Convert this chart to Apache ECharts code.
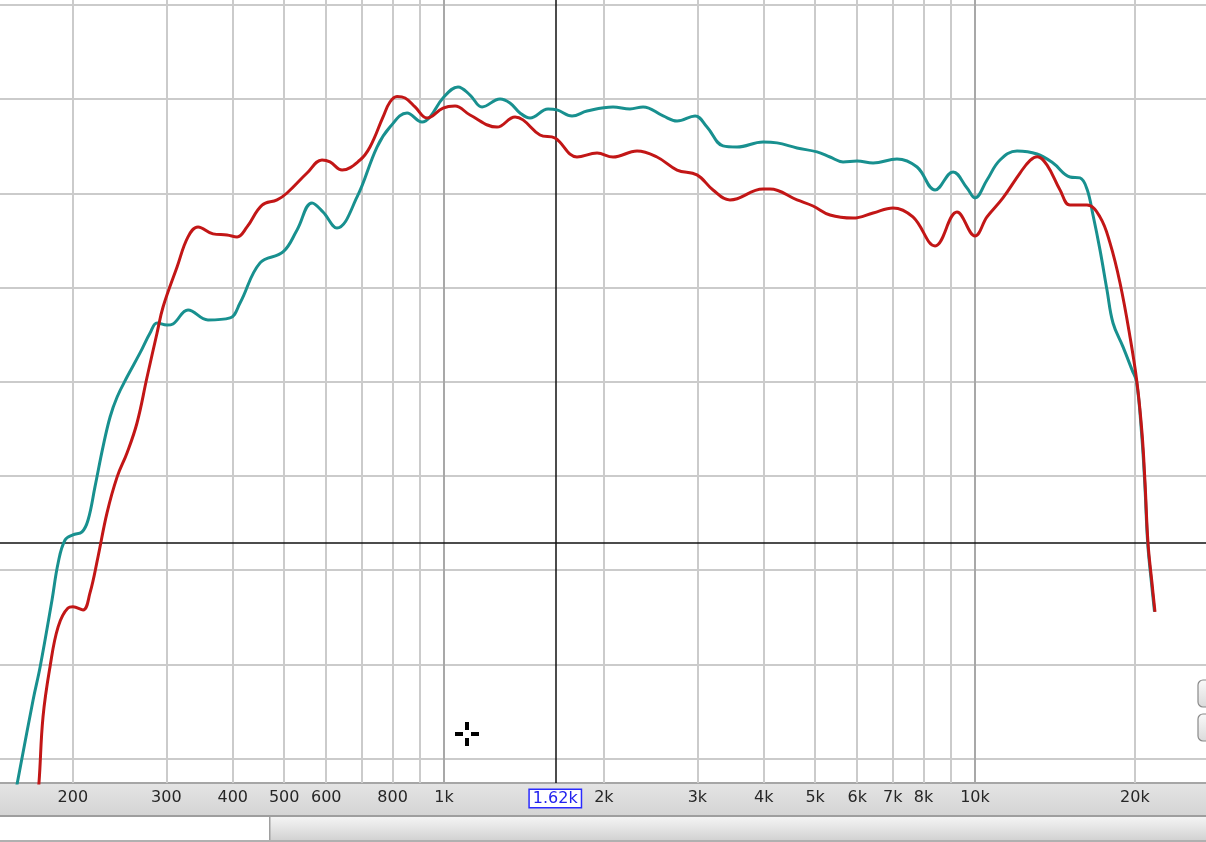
<!DOCTYPE html>
<html><head><meta charset="utf-8">
<script src="https://cdn.jsdelivr.net/npm/echarts@6/dist/echarts.min.js"></script>
<style>html,body{margin:0;padding:0;background:#fff;overflow:hidden}#c{width:1206px;height:842px}</style>
</head><body><div id="c"></div>
<script>
// Frequency (Hz) and level (dB)
const tealFreq = [155,168.3,173.5,182.7,187.6,193.3,200,208.1,213.6,220.1,227.9,235,242.3,252.9,267.6,279.5,288.1,300.8,308.7,329.5,359.3,395.4,412.9,450.3,497.5,528.7,564.1,591.7,628.6,685.9,747.8,791,851.8,909.1,941,995.7,1062.6,1119.4,1179.3,1274.9,1331,1390,1452,1570,1632,1742,1859,2081,2240,2371,2586,2747,2970,3128,3353,3563,3988,4238,4622,5040,5333,5643,5998,6428,7129,7778,8410,9091,9659,10000,10534,11145,11999,13088,14026,15097,15766,16252,16681,17195,17725,18193,19000,19758,20150,20600,20880,21150,21500,21780];
const tealDb = [-42.2,-36.89,-35.14,-31.58,-29.62,-28.4,-28.13,-27.97,-27.34,-25.58,-23.46,-21.87,-20.81,-19.75,-18.47,-17.41,-16.88,-16.99,-16.93,-16.19,-16.72,-16.61,-15.82,-13.69,-13.11,-11.94,-10.51,-10.99,-11.84,-10.19,-7.54,-6.48,-5.73,-6.21,-5.94,-4.94,-4.35,-4.78,-5.41,-4.99,-5.2,-5.73,-6.0,-5.52,-5.57,-5.89,-5.63,-5.41,-5.52,-5.41,-5.89,-6.16,-5.89,-6.48,-7.48,-7.54,-7.27,-7.32,-7.59,-7.8,-8.07,-8.33,-8.28,-8.39,-8.17,-8.6,-9.82,-8.86,-9.71,-10.24,-9.29,-8.23,-7.75,-7.91,-8.39,-9.13,-9.18,-9.77,-11.15,-13.0,-15.13,-16.88,-18.15,-19.37,-20.0,-22.8,-25.4,-28.6,-30.7,-32.2];

const redFreq = [171.2,172.7,175.7,181.1,187.6,195.8,200,209,215.4,223,231.9,242.3,252.9,264.1,275.9,288.1,295.7,314.2,329.5,344.1,367.3,390.2,407.6,425.6,454.3,484.8,506.2,552.1,589.1,609.9,642.8,694.7,725.4,767.7,791,815.7,844.5,881.8,929,995.7,1048.8,1119.4,1258.5,1360.5,1408.5,1516,1618,1780,1942,2081,2310,2518,2747,2995,3211,3456,3988,4111,4622,4954,5333,5893,6428,7006,7640,8410,9249,10000,10534,11290,12155,12700,13100,13660,14459,15097,16252,17195,17956,18756,19586,20191,20632,20904,21175,21544,21827];
const redDb = [-42.2,-41.24,-37.79,-35.14,-33.01,-32.01,-31.95,-32.11,-31.21,-29.3,-26.96,-25.05,-23.78,-22.19,-19.75,-17.41,-16.03,-13.91,-12.31,-11.78,-12.15,-12.21,-12.31,-11.78,-10.62,-10.35,-9.98,-8.92,-8.23,-8.33,-8.76,-8.23,-7.54,-5.94,-5.15,-4.86,-4.94,-5.41,-6.0,-5.47,-5.36,-5.84,-6.48,-5.94,-6.1,-6.9,-7.06,-8.07,-7.86,-8.07,-7.75,-8.07,-8.76,-9.02,-9.82,-10.35,-9.77,-9.77,-10.35,-10.67,-11.15,-11.31,-11.04,-10.77,-11.25,-12.79,-10.99,-12.26,-11.25,-10.24,-8.92,-8.25,-8.05,-8.49,-9.82,-10.62,-10.62,-11.25,-12.63,-14.76,-17.62,-20.06,-22.72,-25.37,-28.56,-30.68,-32.22];

const gridFreqs = [200,300,400,500,600,700,800,900,1000,2000,3000,4000,5000,6000,7000,8000,9000,10000,20000];
const majorFreqs = [1000,10000];
const gridDb = [0,-5,-10,-15,-20,-25,-30,-35,-40];
const labelFreqs = [200,300,400,500,600,800,1000,1620,2000,3000,4000,5000,6000,7000,8000,10000,20000];
const labelTexts = ['200','300','400','500','600','800','1k','1.62k','2k','3k','4k','5k','6k','7k','8k','10k','20k'];
const cursorFreq = 1620;
const cursorDb = -28.56;

const zip = (a, b) => a.map((v, i) => [v, b[i]]);

const chart = echarts.init(document.getElementById('c'), null, {renderer: 'canvas'});
const FONT = 'DejaVu Sans';

const option = {
  animation: false,
  backgroundColor: '#ffffff',
  grid: {left: 0, right: 0, top: 0, bottom: 59, containLabel: false},
  xAxis: {
    type: 'log', logBase: 10, min: 145.8, max: 27230,
    axisLine: {show: false},
    axisTick: {show: false, customValues: gridFreqs},
    splitLine: {show: true, lineStyle: {color: '#cbcbcb', width: 2}},
    minorSplitLine: {show: false},
    axisLabel: {
      show: true, customValues: labelFreqs, margin: 7,
      fontFamily: FONT, fontSize: 16, color: '#262626',
      formatter: function (v) {
        const i = labelFreqs.findIndex(f => Math.abs(Math.log10(f / v)) < 0.004);
        if (i < 0) return '';
        if (labelFreqs[i] === cursorFreq) return '{box|' + labelTexts[i] + '}';
        return labelTexts[i];
      },
      rich: {
        box: {color: '#2222ee', fontFamily: FONT, fontSize: 16, lineHeight: 17,
              borderColor: '#2a2aff', borderWidth: 1.5, padding: [1, 3, 0, 3], backgroundColor: '#ffffff'}
      }
    }
  },
  yAxis: {
    type: 'value', min: -41.3, max: 0.265,
    axisLine: {show: false}, axisLabel: {show: false},
    axisTick: {show: false, customValues: gridDb},
    splitLine: {show: true, lineStyle: {color: '#cbcbcb', width: 2}}
  },
  series: [
    {
      name: 'teal', type: 'line', data: zip(tealFreq, tealDb), smooth: 0.4, symbol: 'none',
      lineStyle: {color: '#18908f', width: 3}, z: 3,
      markLine: {
        z: 1, silent: true, symbol: ['none', 'none'], label: {show: false},
        lineStyle: {color: '#a8a8a8', width: 2, type: 'solid'},
        data: majorFreqs.map(f => ({xAxis: f}))
      }
    },
    {
      name: 'red', type: 'line', data: zip(redFreq, redDb), smooth: 0.4, symbol: 'none',
      lineStyle: {color: '#c21616', width: 3}, z: 4,
      markLine: {
        z: 2, silent: true, symbol: ['none', 'none'], label: {show: false},
        lineStyle: {color: '#111111', width: 1.5, type: 'solid'},
        data: [{xAxis: cursorFreq}, {yAxis: cursorDb}]
      }
    }
  ],
  graphic: [
    {type: 'rect', z: -1, shape: {x: 0, y: 783, width: 1206, height: 33},
     style: {fill: new echarts.graphic.LinearGradient(0, 0, 0, 1, [{offset: 0, color: '#e4e4e4'}, {offset: 1, color: '#d4d4d4'}])}},
    {type: 'rect', z: -1, shape: {x: 0, y: 782, width: 1206, height: 2}, style: {fill: '#a6a6a6'}},
    {type: 'rect', z: -1, shape: {x: 0, y: 815, width: 1206, height: 2}, style: {fill: '#9e9e9e'}},
    {type: 'rect', z: -1, shape: {x: 0, y: 817, width: 270, height: 25}, style: {fill: '#ffffff'}},
    {type: 'rect', z: -1, shape: {x: 270, y: 817, width: 936, height: 25},
     style: {fill: new echarts.graphic.LinearGradient(0, 0, 0, 1, [{offset: 0, color: '#f4f4f4'}, {offset: 0.5, color: '#e2e2e2'}, {offset: 1, color: '#cfcfcf'}])}},
    {type: 'rect', z: -1, shape: {x: 269, y: 817, width: 1.5, height: 25}, style: {fill: '#a0a0a0'}},
    {type: 'rect', z: -1, shape: {x: 0, y: 840, width: 1206, height: 2}, style: {fill: '#b0b0b0'}},
    {type: 'rect', z: 10, shape: {x: 1198, y: 680, width: 24, height: 27, r: 5},
     style: {fill: new echarts.graphic.LinearGradient(0, 0, 0, 1, [{offset: 0, color: '#fafafa'}, {offset: 1, color: '#dadada'}]), stroke: '#8a8a8a', lineWidth: 1.2}},
    {type: 'rect', z: 10, shape: {x: 1198, y: 714, width: 24, height: 27, r: 5},
     style: {fill: new echarts.graphic.LinearGradient(0, 0, 0, 1, [{offset: 0, color: '#fafafa'}, {offset: 1, color: '#dadada'}]), stroke: '#8a8a8a', lineWidth: 1.2}},
    {type: 'rect', z: 10, shape: {x: 455, y: 732, width: 8, height: 4}, style: {fill: '#000'}},
    {type: 'rect', z: 10, shape: {x: 471, y: 732, width: 8, height: 4}, style: {fill: '#000'}},
    {type: 'rect', z: 10, shape: {x: 465, y: 722, width: 4, height: 8}, style: {fill: '#000'}},
    {type: 'rect', z: 10, shape: {x: 465, y: 738, width: 4, height: 8}, style: {fill: '#000'}}
  ]
};
chart.setOption(option);
</script>
</body></html>
